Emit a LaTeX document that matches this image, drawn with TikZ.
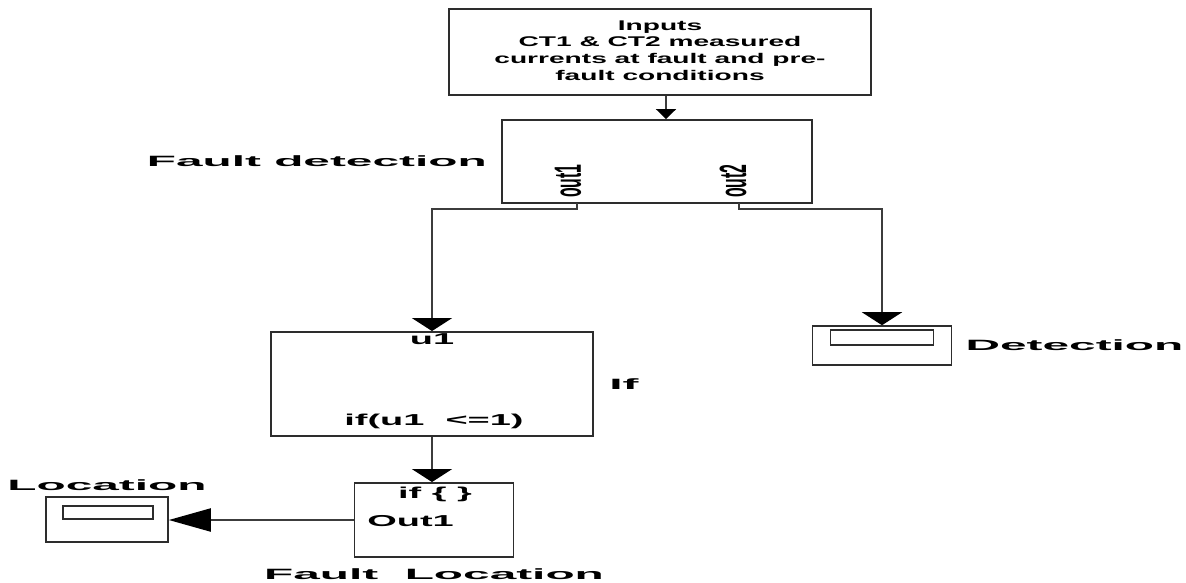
\documentclass[tikz,border=0pt]{standalone}
\usepackage{fontspec}
\setmainfont{Liberation Sans}
\usepackage{graphicx}
\usepackage{tikz}
\usetikzlibrary{arrows.meta, positioning, calc}
\definecolor{edge}{RGB}{45,45,45}
\definecolor{wire}{RGB}{60,60,60}
\newcommand{\xwide}[2]{\scalebox{#1}[1]{#2}}
\tikzset{
  blk/.style={rectangle, draw=edge, fill=white, line width=1.1pt, inner sep=0pt},
  dispout/.style={rectangle, draw=edge, fill=white, line width=0.9pt, inner sep=0pt},
  dispin/.style={rectangle, draw=edge, fill=white, line width=0.9pt, inner sep=0pt},
  lbl/.style={font=\bfseries\fontsize{8.5}{10}\selectfont, inner sep=0pt},
  txt/.style={font=\bfseries\fontsize{9}{10}\selectfont, inner sep=0pt},
  arrb/.style={-{Triangle[width=0.8cm, length=0.26cm, color=black]}, line width=1.2pt, color=wire},
  arrh/.style={-{Triangle[width=0.46cm, length=0.84cm, color=black]}, line width=1.2pt, color=wire},
  arrs/.style={-{Triangle[width=0.4cm, length=0.2cm, color=black]}, line width=1.2pt, color=wire}
}

\begin{document}
\begin{tikzpicture}[x=0.02cm, y=-0.02cm]
  \useasboundingbox (0,0) rectangle (1186,582);
  % Inputs
  \node[blk, minimum width=8.44cm, minimum height=1.72cm,
    font=\bfseries\fontsize{8}{9.6}\selectfont] (inputs) at (660,52)
    {\xwide{2}{\begin{tabular}{@{}c@{}}Inputs\\CT1 \& CT2 measured\\currents at fault and pre-\\fault conditions\end{tabular}}};
  % Fault detection
  \node[blk, minimum width=6.2cm, minimum height=1.66cm] (fd) at (657,161.5) {};
  \node[lbl, left=0.28cm of fd] (fdl) {\xwide{3.2}{Fault detection}};
  \node[txt] (p1) at (568,181) {\xwide{2.4}{\rotatebox{90}{out1}}};
  \node[txt] (p2) at (733,181) {\xwide{2.4}{\rotatebox{90}{out2}}};
  \coordinate (o1) at (577,203);
  \coordinate (o2) at (739,203);
  % If
  \node[blk, minimum width=6.44cm, minimum height=2.08cm] (ifb) at (432,384) {};
  \node[lbl, right=0.3cm of ifb] (ifl) {\xwide{3.2}{If}};
  \node[txt] (u1) at (432,339) {\xwide{2.4}{u1}};
  \node[txt] (cond) at (434,421) {\xwide{2.4}{if(u1\ \ <=1)}};
  % Fault location
  \node[blk, minimum width=3.18cm, minimum height=1.48cm] (floc) at (434,520) {};
  \node[lbl, below=0.2cm of floc] (flocl) {\xwide{3.2}{Fault\ \ Location}};
  \node[txt] (ifc) at (435,494) {\xwide{2.4}{if \{ \}}};
  \node[txt, anchor=west] (out1) at (367,521.5) {\xwide{2.4}{Out1}};
  % Displays
  \node[dispout, minimum width=2.44cm, minimum height=0.9cm] (loc) at (107,519.5) {};
  \node[dispin, minimum width=1.8cm, minimum height=0.26cm] (loci) at (108,512.5) {};
  \node[lbl, above=0.1cm of loc] (locl) {\xwide{3.2}{Location}};
  \node[dispout, minimum width=2.78cm, minimum height=0.78cm] (det) at (882,345.5) {};
  \node[dispin, minimum width=2.06cm, minimum height=0.3cm] (deti) at (882,337.5) {};
  \node[lbl, right=0.26cm of det] (detl) {\xwide{3.2}{Detection}};

  % Arrows
  \draw[arrs] ([xshift=0.12cm]inputs.south) -- ([xshift=0.12cm]inputs.south |- fd.north);
  \draw[arrb] (o1) -- ++(0,6) -| (ifb.north);
  \draw[arrb] (o2) -- ++(0,6) -| (det.north);
  \draw[arrb] (ifb.south) -- (ifb.south |- floc.north);
  \draw[arrh] (floc.west) -- (floc.west -| loc.east);
\end{tikzpicture}
\end{document}
